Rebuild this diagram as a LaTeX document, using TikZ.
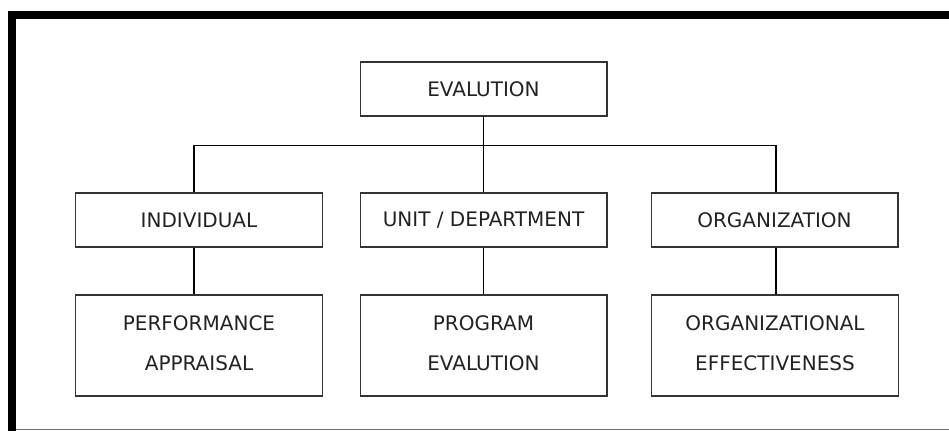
\documentclass[tikz,border=0pt]{standalone}
\usepackage{fontspec}
\setmainfont{DejaVu Sans}
\definecolor{boxline}{HTML}{333333}
\definecolor{inktext}{HTML}{222222}
\definecolor{rule}{HTML}{6E6E6E}
\tikzset{
  unitbox/.style={draw=boxline, line width=1pt, fill=white, inner sep=0pt,
    minimum width=185pt, minimum height=40.5pt, text=inktext,
    font={\fontsize{15}{30}\selectfont}, align=center},
  tallbox/.style={unitbox, minimum height=75.75pt},
  link/.style={draw=black, line width=0.8pt}
}
\begin{document}
\begin{tikzpicture}[x=0.75pt, y=-0.75pt]
  \useasboundingbox (0,0) rectangle (949,431);
  % page frame: heavy rule on top and left, thin rule at the bottom
  \fill[black] (8,11) rectangle (949,19);
  \fill[black] (8,11) rectangle (16,431);
  \draw[rule, line width=0.9pt] (16,429.3) -- (949,429.3);

  % boxes
  \node[unitbox] (eval) at (483.5,89) {EVALUTION};
  \node[unitbox] (ind)  at (199,220)   {INDIVIDUAL};
  \node[unitbox] (unit) at (483.5,220) {UNIT / DEPARTMENT};
  \node[unitbox] (org)  at (774.5,220) {ORGANIZATION};
  \node[tallbox] (perf) at (199,345.5)   {PERFORMANCE\\APPRAISAL\vphantom{g}};
  \node[tallbox] (prog) at (483.5,345.5) {PROGRAM\\EVALUTION\vphantom{g}};
  \node[tallbox] (oeff) at (775,345.5)   {ORGANIZATIONAL\\EFFECTIVENESS\vphantom{g}};

  % level of the branching rule
  \coordinate (bus) at (0,145.5);

  % connectors
  \draw[link] (eval.south) -- (unit.north);
  \draw[link] ([xshift=-3.75pt]ind.north) -- ([xshift=-3.75pt]ind.north |- bus)
              -| ([xshift=1.1pt]org.north);
  \draw[link] ([xshift=-3.75pt]ind.south) -- ([xshift=-3.75pt]perf.north);
  \draw[link] (unit.south) -- (prog.north);
  \draw[link] ([xshift=1.1pt]org.south) -- ([xshift=1.1pt]org.south |- oeff.north);
\end{tikzpicture}
\end{document}
